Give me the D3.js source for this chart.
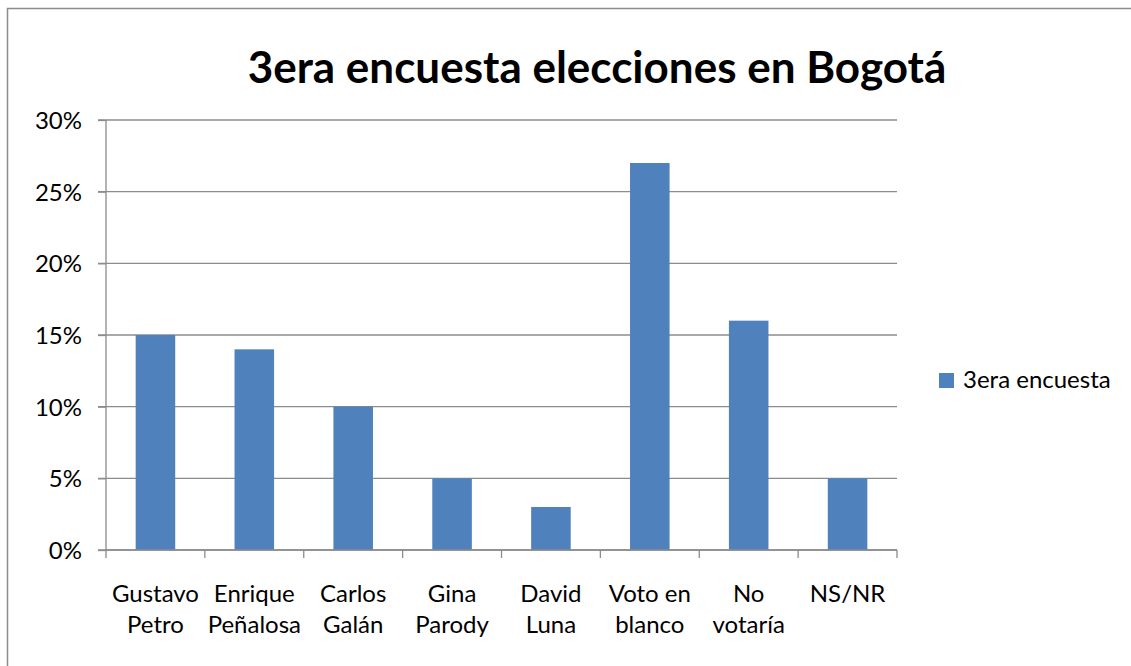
<!DOCTYPE html>
<html>
<head>
<meta charset="utf-8">
<script src="https://d3js.org/d3.v7.min.js"></script>
<style>
  body { margin: 0; background: #fff; }
  svg { display: block; font-family: Lato, "Open Sans", sans-serif; }
</style>
</head>
<body>
<script>
// chart values
var categories = [["Gustavo", "Petro"], ["Enrique", "Peñalosa"], ["Carlos", "Galán"], ["Gina", "Parody"],
                  ["David", "Luna"], ["Voto en", "blanco"], ["No", "votaría"], ["NS/NR"]];
var values = [15, 14, 10, 5, 3, 27, 16, 5];
var yTicks = [0, 5, 10, 15, 20, 25, 30];
var seriesName = "3era encuesta";
var title = "3era encuesta elecciones en Bogotá";

var width = 1131, height = 666;
var plotLeft = 106, plotRight = 897, plotTop = 120, plotBottom = 550;
var barColor = "#4F81BD", lineColor = "#8c8c8c";

var svg = d3.select("body").append("svg")
    .attr("width", width)
    .attr("height", height);

// chart frame (only top and left visible in the picture)
svg.append("rect")
    .attr("x", 7.5).attr("y", 8.5)
    .attr("width", width + 20).attr("height", height + 20)
    .attr("fill", "none")
    .attr("stroke", lineColor)
    .attr("stroke-width", 1.5);

var keys = categories.map(function(d, i) { return i; });

var x = d3.scaleBand()
    .domain(keys)
    .range([plotLeft, plotRight])
    .paddingInner(0.6)
    .paddingOuter(0.3);

var y = d3.scaleLinear()
    .domain([0, 30])
    .range([plotBottom, plotTop]);

// gridlines
svg.append("g")
    .selectAll("line")
    .data(yTicks)
    .enter()
    .append("line")
        .attr("x1", plotLeft - 8)
        .attr("x2", plotRight)
        .attr("y1", function(d) { return y(d); })
        .attr("y2", function(d) { return y(d); })
        .attr("stroke", lineColor)
        .attr("stroke-width", 1.3);

// bars
svg.append("g")
    .selectAll("rect")
    .data(values)
    .enter()
    .append("rect")
        .attr("x", function(d, i) { return x(i); })
        .attr("y", function(d) { return y(d); })
        .attr("width", x.bandwidth())
        .attr("height", function(d) { return plotBottom - y(d); })
        .attr("fill", barColor);

// y axis
var yAxis = svg.append("g")
    .attr("transform", "translate(" + plotLeft + ",0)")
    .call(d3.axisLeft(y).tickValues(yTicks).tickSize(8).tickFormat(function(d) { return d + "%"; }));
yAxis.selectAll("path, line").attr("stroke", lineColor).attr("stroke-width", 1.3);
yAxis.select(".domain").attr("d", "M0," + plotTop + "V" + plotBottom);
yAxis.selectAll("text")
    .attr("x", -24)
    .attr("dy", "0.36em")
    .attr("fill", "#000")
    .style("font-family", "Lato, sans-serif")
    .style("font-size", "24px");

// x axis with boundary ticks
var step = x.step();
var boundaries = d3.range(categories.length + 1).map(function(i) { return plotLeft + i * step; });
var xAxis = svg.append("g");
xAxis.append("line")
    .attr("x1", plotLeft).attr("x2", plotRight)
    .attr("y1", plotBottom).attr("y2", plotBottom)
    .attr("stroke", lineColor).attr("stroke-width", 1.3);
xAxis.selectAll(".tk")
    .data(boundaries)
    .enter()
    .append("line")
        .attr("class", "tk")
        .attr("x1", function(d) { return d; })
        .attr("x2", function(d) { return d; })
        .attr("y1", plotBottom)
        .attr("y2", plotBottom + 8)
        .attr("stroke", lineColor).attr("stroke-width", 1.3);

var labels = xAxis.selectAll(".lbl")
    .data(categories)
    .enter()
    .append("text")
        .attr("class", "lbl")
        .attr("text-anchor", "middle")
        .attr("font-size", 24)
        .attr("fill", "#000")
        .attr("transform", function(d, i) { return "translate(" + (x(i) + x.bandwidth() / 2) + ",602)"; });
labels.selectAll("tspan")
    .data(function(d) { return d; })
    .enter()
    .append("tspan")
        .attr("x", 0)
        .attr("y", function(d, i) { return i * 31; })
        .text(function(d) { return d; });

// title
svg.append("text")
    .attr("x", 597)
    .attr("y", 83)
    .attr("text-anchor", "middle")
    .attr("font-size", 44)
    .attr("font-weight", "bold")
    .attr("fill", "#000")
    .text(title);

// legend
svg.append("rect")
    .attr("x", 939).attr("y", 373)
    .attr("width", 15).attr("height", 15)
    .attr("fill", barColor);
svg.append("text")
    .attr("x", 963)
    .attr("y", 388)
    .attr("font-size", 24)
    .attr("fill", "#000")
    .text(seriesName);
</script>
</body>
</html>
